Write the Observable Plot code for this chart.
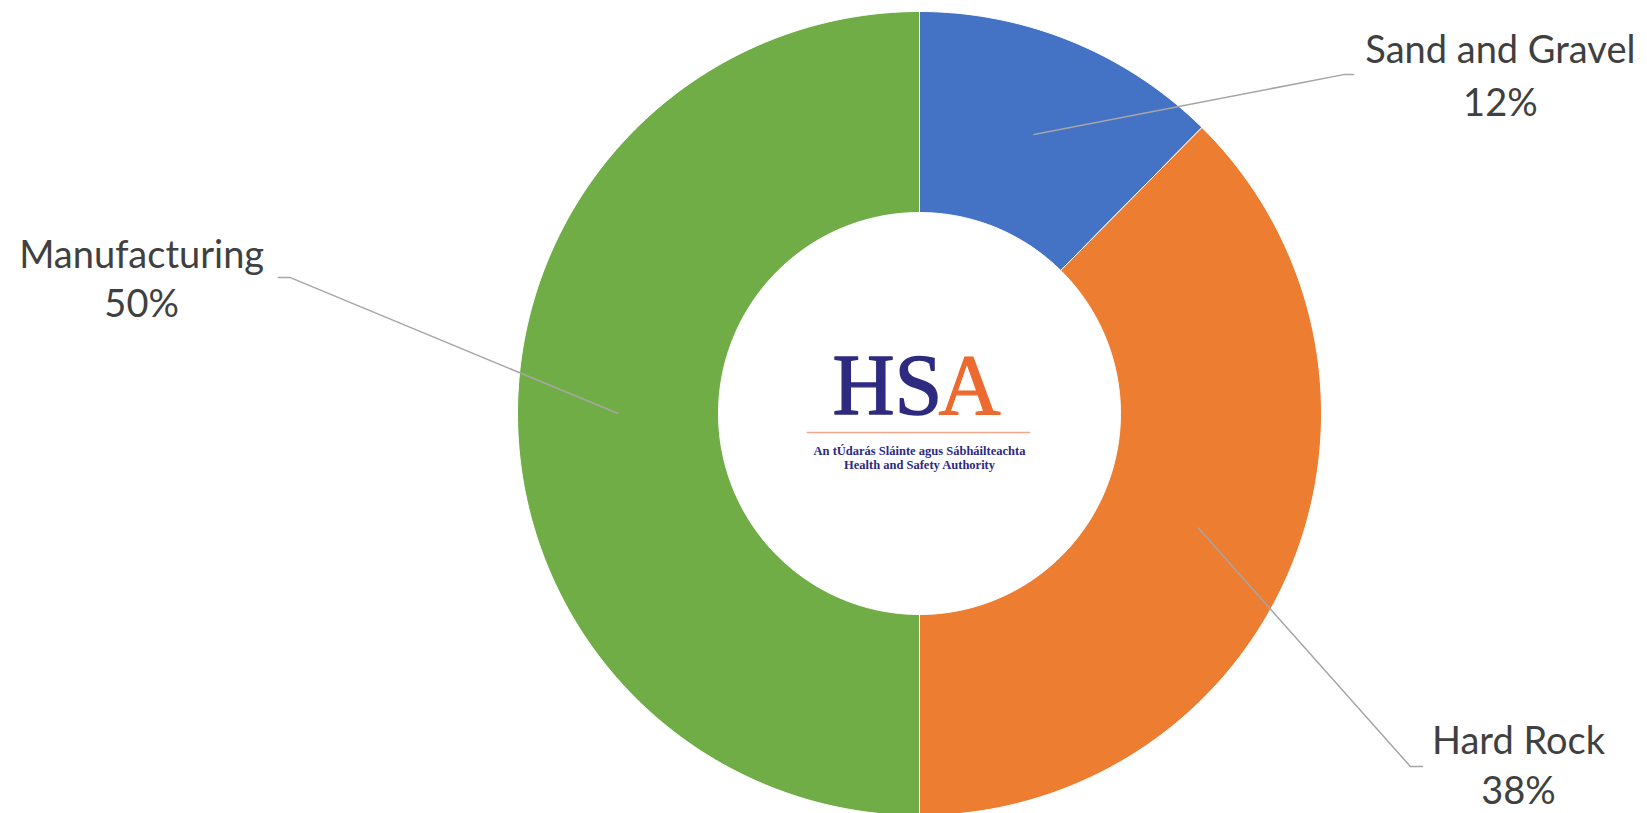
<!DOCTYPE html>
<html><head><meta charset="utf-8">
<script src="https://cdn.jsdelivr.net/npm/d3@7"></script>
<script src="https://cdn.jsdelivr.net/npm/@observablehq/plot@0.6"></script>
<style>body{margin:0;background:#fff}svg{display:block}</style>
</head><body><div id="chart"></div>
<script>
// ---- data ----
const categories = ["Sand and Gravel", "Hard Rock", "Manufacturing"];
const values = [12.4, 37.6, 50];
const colors = ["#4472C4", "#ED7D31", "#70AD47"];
const logoLetters = ["HS", "A"];
const logoLines = ["An tÚdarás Sláinte agus Sábháilteachta", "Health and Safety Authority"];

// ---- layout (units = outer radius) ----
const W = 1647, H = 813, CX = 919, CY = 413, R = 402;
const INNER = 0.5, MIDR = 0.75;
const labelLayout = [
  {x: 1.445, yName: 0.871, yPct: 0.741, elbow: [1.055, 0.843], end: [1.080, 0.843]},
  {x: 1.490, yName: -0.846, yPct: -0.972, elbow: [1.221, -0.878], end: [1.251, -0.878]},
  {x: -1.935, yName: 0.363, yPct: 0.239, elbow: [-1.565, 0.338], end: [-1.595, 0.338]}
];

const total = d3.sum(values);
let acc = 0;
const slices = categories.map((c, i) => {
  const a0 = acc / total * 2 * Math.PI;
  acc += values[i];
  const a1 = acc / total * 2 * Math.PI;
  return {category: c, value: values[i], a0, a1, pct: Math.round(values[i] / total * 100) + "%"};
});

// polygon points for each slice
const polyPts = [];
for (const s of slices) {
  const n = Math.max(8, Math.ceil((s.a1 - s.a0) / (Math.PI / 360)));
  const pts = [];
  for (let k = 0; k <= n; k++) {
    const a = s.a0 + (s.a1 - s.a0) * k / n;
    pts.push([Math.sin(a), Math.cos(a)]);
  }
  for (let k = n; k >= 0; k--) {
    const a = s.a0 + (s.a1 - s.a0) * k / n;
    pts.push([INNER * Math.sin(a), INNER * Math.cos(a)]);
  }
  pts.push(pts[0]);
  pts.forEach(([x, y]) => polyPts.push({category: s.category, x, y}));
}

// leader lines
const leaderPts = [];
slices.forEach((s, i) => {
  const m = (s.a0 + s.a1) / 2;
  const L = labelLayout[i];
  leaderPts.push({k: i, x: MIDR * Math.sin(m), y: MIDR * Math.cos(m)});
  leaderPts.push({k: i, x: L.elbow[0], y: L.elbow[1]});
  leaderPts.push({k: i, x: L.end[0], y: L.end[1]});
});
const labels = slices.map((s, i) => ({...s, ...labelLayout[i]}));

const font = "Lato, 'Open Sans', sans-serif";
const navy = "#2d2a80";
const serif = "'Liberation Serif', serif";

const chart = Plot.plot({
  width: W, height: H,
  margin: 0,
  x: {domain: [-CX / R, (W - CX) / R], axis: null},
  y: {domain: [-(H - CY) / R, CY / R], axis: null},
  color: {domain: categories, range: colors},
  style: {background: "#fff"},
  marks: [
    Plot.line(polyPts, {x: "x", y: "y", z: "category", fill: "category", stroke: "#fff", strokeWidth: 1, curve: "linear"}),
    Plot.line(leaderPts, {x: "x", y: "y", z: "k", stroke: "#a6a6a6", strokeWidth: 1.5}),
    Plot.text(labels, {x: "x", y: "yName", text: "category", lineAnchor: "bottom", fontSize: 38, fontFamily: font, fill: "#404040"}),
    Plot.text(labels, {x: "x", y: "yPct", text: "pct", lineAnchor: "bottom", fontSize: 38, fontFamily: font, fill: "#404040"}),
    // logo
    Plot.text([logoLetters[0]], {x: [0.057], y: [0.0], text: d => d, textAnchor: "end", lineAnchor: "bottom", fontSize: 86, fontFamily: serif, fill: navy, stroke: navy, strokeWidth: 1.4}),
    Plot.text([logoLetters[1]], {x: [0.047], y: [0.0], text: d => d, textAnchor: "start", lineAnchor: "bottom", fontSize: 86, fontFamily: serif, fill: "#ec6a2f", stroke: "#ec6a2f", strokeWidth: 1.2}),
    Plot.ruleY([-0.047], {x1: -0.279, x2: 0.276, stroke: "#f2a68c", strokeWidth: 1.5}),
    Plot.text(logoLines, {x: [0, 0], y: [-0.104, -0.139], text: d => d, lineAnchor: "bottom", fontSize: 12.5, fontWeight: "bold", fontFamily: serif, fill: navy})
  ]
});
document.getElementById("chart").appendChild(chart);
</script>
</body></html>
